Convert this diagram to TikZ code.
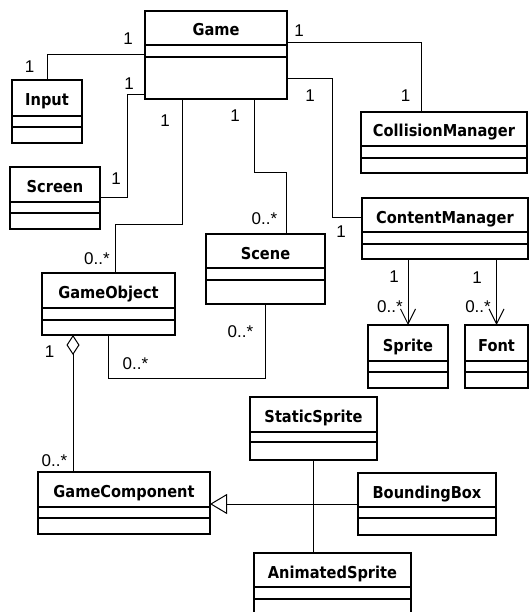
\documentclass[tikz,border=0pt]{standalone}
\usepackage{fontspec}
\setmainfont{Liberation Sans}
\newfontfamily\titlefont{DejaVu Sans}[FakeStretch=0.89]
\usetikzlibrary{arrows.meta,calc}

\tikzset{
  classbox/.style={draw, line width=2.5pt, inner sep=0pt, outer sep=0pt, fill=white},
  divider/.style={line width=1.2pt},
  classtitle/.style={inner sep=0pt, text height=12pt, text depth=0pt,
    font=\titlefont\bfseries\fontsize{16.4}{18}\selectfont},
  mult/.style={inner sep=0pt, font=\fontsize{17}{19}\selectfont},
  assoc/.style={line width=1pt},
  navarrow/.style={assoc, -{Straight Barb[length=15pt,width=15pt,line width=1pt]}},
  aggregation/.style={assoc, {Diamond[open,length=20pt,width=13pt,line width=1pt]}-},
  inherit/.style={assoc, -{Triangle[open,length=17pt,width=20pt,line width=1pt]}},
}

% class box: name, title, x1, y1, x2, y2, first divider, second divider
\newcommand{\umlclass}[8]{%
  \node[classbox, minimum width={(#5-#3)*1pt}, minimum height={(#6-#4)*1pt}]
    (#1) at ({(#3+#5)/2},{(#4+#6)/2}) {};
  \draw[divider] (#3,#7) -- (#5,#7) (#3,#8) -- (#5,#8);
  \node[classtitle] (#1-title) at ({(#3+#5)/2},{(#4+#7)/2+2}) {#2};
}

\begin{document}
\begin{tikzpicture}[x=1pt,y=-1pt]
\useasboundingbox (0,0) rectangle (531,612);
\clip (0,0) rectangle (531,612);
\fill[white] (0,0) rectangle (531,612);

% classes
\umlclass{game}{Game}{145}{11}{287}{99}{45}{57}
\umlclass{input}{Input}{12}{80}{82}{143}{116}{127}
\umlclass{screen}{Screen}{10}{167}{100}{229}{202}{213}
\umlclass{coll}{CollisionManager}{361}{112}{527}{173}{146}{158}
\umlclass{content}{ContentManager}{362}{198}{528}{259}{232}{244}
\umlclass{sprite}{Sprite}{368}{325}{448}{388}{361}{372}
\umlclass{font}{Font}{465}{325}{528}{388}{361}{372}
\umlclass{scene}{Scene}{206}{234}{325}{304}{268}{280}
\umlclass{gobj}{GameObject}{42}{273}{175}{335}{308}{320}
\umlclass{gcomp}{GameComponent}{38}{472}{210}{534}{507}{518}
\umlclass{ssprite}{StaticSprite}{250}{397}{377}{460}{432}{442}
\umlclass{bbox}{BoundingBox}{358}{473}{496}{535}{507}{518}
\umlclass{asprite}{AnimatedSprite}{254}{553}{411}{625}{587}{599}

% associations from Game
\draw[assoc] (game.west) -| (input.north);
\draw[assoc] ([yshift=-40pt]game.west) -| ($(screen.east)+(27,0)$) -- (screen.east);
\draw[assoc] ([xshift=-34pt]game.south) -- ++(0,125) -| ([xshift=6.5pt]gobj.north);
\draw[assoc] ([xshift=38pt]game.south) -- ++(0,74) -| ([xshift=20.5pt]scene.north);
\draw[assoc] ([yshift=12pt]game.east) -| ([xshift=-23pt]coll.north);
\draw[assoc] ([yshift=-24pt]game.east) -| ($(content.west)+(-30,-11.5)$) -- ($(content.west)+(0,-11.5)$);

% ContentManager navigations
\draw[navarrow] (content.south -| sprite.north) -- (sprite.north);
\draw[navarrow] (content.south -| font.north) -- (font.north);

% Scene -- GameObject
\draw[assoc] (scene.south) -- ++(0,74) -| (gobj.south);

% GameObject aggregates GameComponent
\draw[aggregation] ([xshift=-35.5pt]gobj.south) -- ([xshift=-51pt]gcomp.north);

% generalisation
\draw[inherit] (bbox.west) -- (bbox.west -| gcomp.east);
\draw[assoc] (ssprite.south) -- (ssprite.south |- asprite.north);

% multiplicities
\node[mult] (m1) at (128,38.5) {1};
\node[mult] (m2) at (29.5,67) {1};
\node[mult] (m3) at (129,83.5) {1};
\node[mult] (m4) at (116,179) {1};
\node[mult] (m5) at (165,120.5) {1};
\node[mult] (m6) at (97,258.5) {0..*};
\node[mult] (m7) at (235,115.5) {1};
\node[mult] (m8) at (264.5,219) {0..*};
\node[mult] (m9) at (299,31) {1};
\node[mult] (m10) at (405.5,96) {1};
\node[mult] (m11) at (310,96) {1};
\node[mult] (m12) at (341,232) {1};
\node[mult] (m13) at (394,276.5) {1};
\node[mult] (m14) at (390,306.5) {0..*};
\node[mult] (m15) at (477,278) {1};
\node[mult] (m16) at (478,306.5) {0..*};
\node[mult] (m17) at (240.5,331.5) {0..*};
\node[mult] (m18) at (135.5,363.5) {0..*};
\node[mult] (m19) at (49.5,352) {1};
\node[mult] (m20) at (54.5,460.5) {0..*};
\end{tikzpicture}
\end{document}
